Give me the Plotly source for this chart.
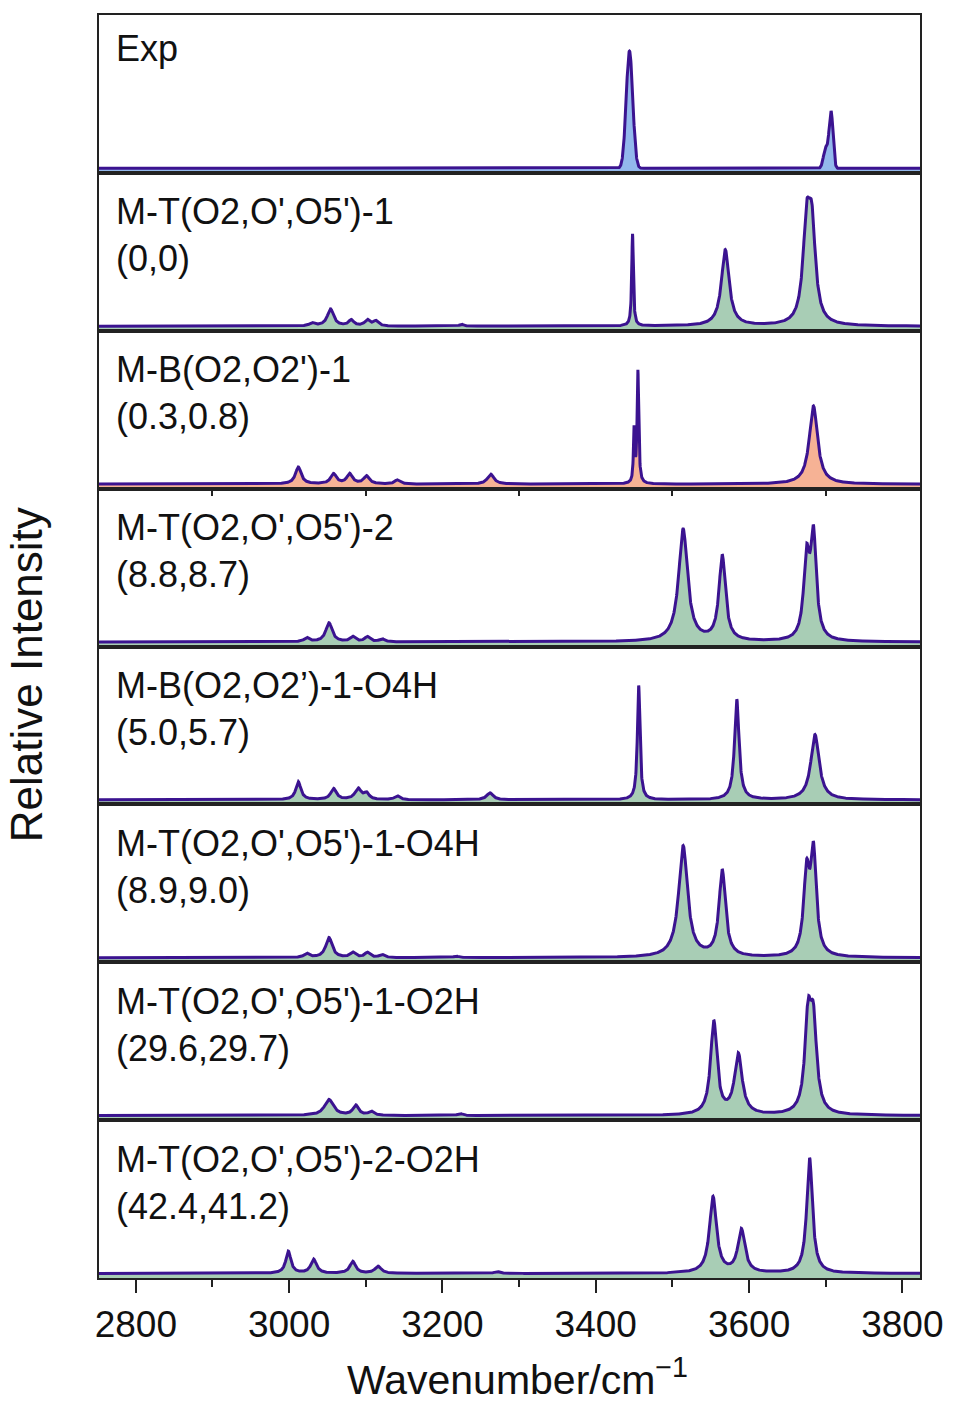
import numpy as np
import plotly.graph_objects as go
from plotly.subplots import make_subplots

# ---- spectra: band positions (cm^-1), peak intensities (a.u.), widths (FWHM, cm^-1) ----
PANEL_NAMES = [
    "Exp",
    "M-T(O2,O',O5')-1<br>(0,0)",
    "M-B(O2,O2')-1<br>(0.3,0.8)",
    "M-T(O2,O',O5')-2<br>(8.8,8.7)",
    "M-B(O2,O2’)-1-O4H<br>(5.0,5.7)",
    "M-T(O2,O',O5')-1-O4H<br>(8.9,9.0)",
    "M-T(O2,O',O5')-1-O2H<br>(29.6,29.7)",
    "M-T(O2,O',O5')-2-O2H<br>(42.4,41.2)",
]

exp_pos = [3444, 3700, 3707]
exp_int = [117, 20, 56]
exp_fwhm = [10, 7, 6]

t1_pos = [3030, 3054, 3081, 3102, 3113, 3225, 3448, 3569, 3675, 3682]
t1_int = [3, 17, 6, 6, 5, 2, 92, 76, 91, 88]
t1_fwhm = [8, 10, 8, 8, 8, 6, 2.5, 12, 11, 11]

b1_pos = [3012, 3058, 3079, 3101, 3141, 3263, 3450, 3455, 3684]
b1_int = [17, 10, 10, 8, 4, 10, 52, 112, 78]
b1_fwhm = [9, 9, 9, 9, 8, 10, 2, 2.5, 13]

t2_pos = [3023, 3052, 3083, 3102, 3121, 3514, 3565, 3675, 3684]
t2_int = [4, 19, 5, 5, 3, 112, 85, 77, 101]
t2_fwhm = [8, 10, 8, 8, 8, 14, 10, 9, 9]

b1o4h_pos = [3012, 3058, 3090, 3101, 3141, 3262, 3456, 3584, 3686]
b1o4h_int = [18, 11, 11, 6, 4, 7, 114, 100, 65]
b1o4h_fwhm = [8, 9, 10, 8, 8, 10, 4, 7, 13]

t1o4h_pos = [3023, 3052, 3083, 3102, 3121, 3218, 3514, 3565, 3675, 3684]
t1o4h_int = [4, 20, 5, 5, 3, 1.5, 111, 86, 78, 100]
t1o4h_fwhm = [8, 10, 8, 8, 8, 8, 14, 10, 9, 9]

t1o2h_pos = [3052, 3087, 3107, 3223, 3554, 3586, 3677, 3684]
t1o2h_int = [16, 10, 4, 2, 93, 60, 89, 82]
t1o2h_fwhm = [14, 9, 8, 8, 10, 12, 10, 10]

t2o2h_pos = [2999, 3032, 3083, 3116, 3271, 3553, 3590, 3679]
t2o2h_int = [22, 14, 12, 7, 2, 76, 43, 115]
t2o2h_fwhm = [8, 9, 9, 10, 8, 11, 11, 9]

BANDS = [
    (exp_pos, exp_int, exp_fwhm),
    (t1_pos, t1_int, t1_fwhm),
    (b1_pos, b1_int, b1_fwhm),
    (t2_pos, t2_int, t2_fwhm),
    (b1o4h_pos, b1o4h_int, b1o4h_fwhm),
    (t1o4h_pos, t1o4h_int, t1o4h_fwhm),
    (t1o2h_pos, t1o2h_int, t1o2h_fwhm),
    (t2o2h_pos, t2o2h_int, t2o2h_fwhm),
]
PROFILE = ["gauss"] + ["lorentz"] * 7
FILLS = ["#93b8ec", "#a8cdb5", "#f6b295", "#a8cdb5",
         "#a8cdb5", "#a8cdb5", "#a8cdb5", "#a8cdb5"]

X_TICKS = [2800, 3000, 3200, 3400, 3600, 3800]
X_MIN, X_MAX = 2752, 3823
Y_MIN, Y_MAX = -4.5, 153

LINE = "#3b1390"
FONT = "Liberation Sans, Arial, sans-serif"


def broaden(x, pos, inten, fwhm, shape):
    y = np.zeros_like(x)
    for p, h, w in zip(pos, inten, fwhm):
        if shape == "gauss":
            s = w / 2.3548
            y += h * np.exp(-0.5 * ((x - p) / s) ** 2)
        else:
            g = (w / 2.0) ** 2
            y += h * g / ((x - p) ** 2 + g)
    return y


wn = np.arange(X_MIN, X_MAX + 0.25, 0.25)
n = len(PANEL_NAMES)

fig = make_subplots(rows=n, cols=1, shared_xaxes=True, vertical_spacing=0)

for i in range(n):
    r = i + 1
    pos, inten, fwhm = BANDS[i]
    spec = broaden(wn, pos, inten, fwhm, PROFILE[i])
    # floor of the panel, used as the lower edge of the filled area
    fig.add_trace(go.Scatter(x=[X_MIN, X_MAX], y=[Y_MIN, Y_MIN], mode="lines",
                             line=dict(width=0), hoverinfo="skip",
                             showlegend=False), row=r, col=1)
    fig.add_trace(go.Scatter(x=wn, y=spec, mode="lines", fill="tonexty",
                             fillcolor=FILLS[i],
                             line=dict(color=LINE, width=3),
                             showlegend=False), row=r, col=1)
    fig.update_yaxes(range=[Y_MIN, Y_MAX], showticklabels=False, ticks="",
                     showgrid=False, zeroline=False, showline=True,
                     mirror=True, linecolor="#222", linewidth=1.5,
                     row=r, col=1)
    fig.update_xaxes(range=[X_MIN, X_MAX], showgrid=False, zeroline=False,
                     showline=True, mirror=True, linecolor="#222",
                     linewidth=1.5, row=r, col=1)
    if r < n:
        fig.update_xaxes(showticklabels=False, ticks="", row=r, col=1)
    yref = "y domain" if r == 1 else f"y{r} domain"
    xref = "x domain" if r == 1 else f"x{r} domain"
    fig.add_annotation(text=PANEL_NAMES[i], xref=xref, yref=yref,
                       x=0.018, y=0.93 if r == 1 else 0.895,
                       xanchor="left", yanchor="top",
                       align="left", showarrow=False,
                       font=dict(family=FONT, size=36, color="#111"))

# short ticks along the lower edge of the third panel
fig.update_xaxes(ticks="outside", tickvals=[2900, 3100, 3300, 3500, 3700],
                 ticklen=6, tickwidth=1.5, tickcolor="#222",
                 showticklabels=False, row=3, col=1)

fig.update_xaxes(ticks="outside", tickvals=X_TICKS, ticklen=13, tickwidth=1.5,
                 tickcolor="#222", showticklabels=True,
                 tickfont=dict(family=FONT, size=37, color="#111"),
                 minor=dict(ticks="outside", dtick=100, tick0=2800, ticklen=7,
                            tickwidth=1.5, tickcolor="#222"),
                 row=n, col=1)

fig.add_annotation(text="Relative Intensity", xref="paper", yref="paper",
                   x=-0.089, y=0.478, textangle=-90, showarrow=False,
                   xanchor="center", yanchor="middle",
                   font=dict(family=FONT, size=44, color="#111"))
fig.add_annotation(text="Wavenumber/cm<sup>−1</sup>", xref="paper",
                   yref="paper", x=0.51, y=-0.078, showarrow=False,
                   xanchor="center", yanchor="middle",
                   font=dict(family=FONT, size=41, color="#111"))

fig.update_layout(width=955, height=1405, paper_bgcolor="white",
                  plot_bgcolor="white",
                  margin=dict(l=99, r=30, t=15, b=127))

fig.write_html("out.html")
